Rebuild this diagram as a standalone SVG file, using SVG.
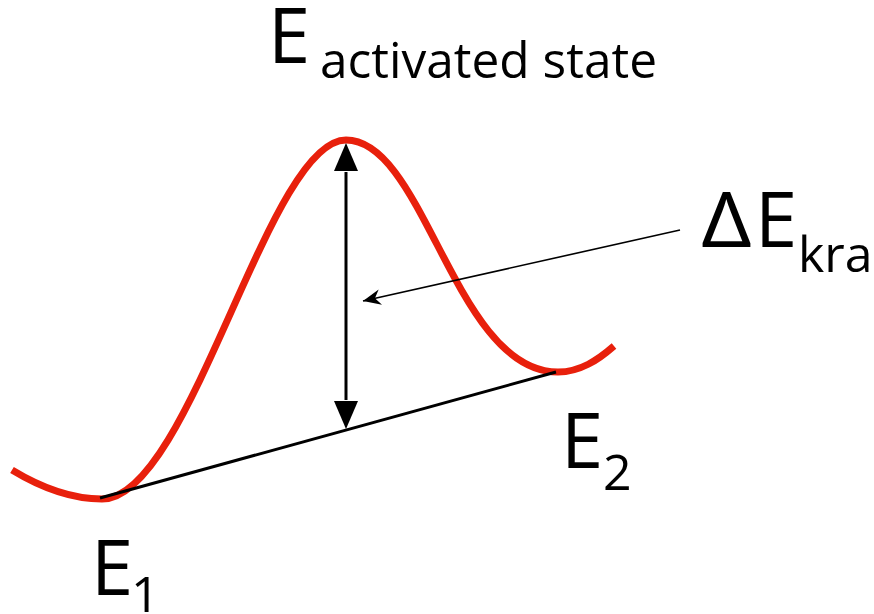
<svg xmlns="http://www.w3.org/2000/svg" width="874" height="614" viewBox="0 0 874 614">
<defs>
<style>
text{font-family:"Open Sans","Liberation Sans",sans-serif;fill:#000}
.big{font-size:76px}
.sub{font-size:50px}
</style>
<marker id="barb" markerUnits="userSpaceOnUse" markerWidth="20" markerHeight="20" viewBox="-16 -8 18 16" refX="0" refY="0" orient="auto">
<path d="M0,0 L-16,-7 L-11,0 L-16,7 z" fill="#000"/>
</marker>
</defs>
<rect width="874" height="614" fill="#fff"/>
<g id="curve">
<path d="M12,470 C40,487 70,499 102,499 C190,499 268,140 346,140 C425,140 455,372 558,372 C580,372 598,360 614,346" fill="none" stroke="#e8200c" stroke-width="7" stroke-linecap="butt"/>
</g>
<g id="connectors">
<line x1="100" y1="498" x2="556" y2="372" stroke="#000" stroke-width="3"/>
<line x1="346" y1="172" x2="346" y2="400" stroke="#000" stroke-width="3"/>
<path d="M346,143 L334,171 L358,171 z" fill="#000"/>
<path d="M346,429 L334,401 L358,401 z" fill="#000"/>
<line x1="680" y1="230" x2="363" y2="301" stroke="#000" stroke-width="1.6" marker-end="url(#barb)"/>
</g>
<g id="label-activated">
<text class="big" x="268" y="63">E</text>
<text class="sub" x="320" y="78" textLength="337" lengthAdjust="spacingAndGlyphs">activated state</text>
</g>
<g id="label-dE">
<text class="big" x="701" y="247" textLength="51" lengthAdjust="spacingAndGlyphs">Δ</text>
<text class="big" x="755" y="247">E</text>
<text class="sub" x="798" y="272">kra</text>
</g>
<g id="label-E1">
<text class="big" x="91" y="595">E</text>
<text class="sub" x="131" y="612">1</text>
</g>
<g id="label-E2">
<text class="big" x="561" y="468">E</text>
<text class="sub" x="603" y="490">2</text>
</g>
</svg>
